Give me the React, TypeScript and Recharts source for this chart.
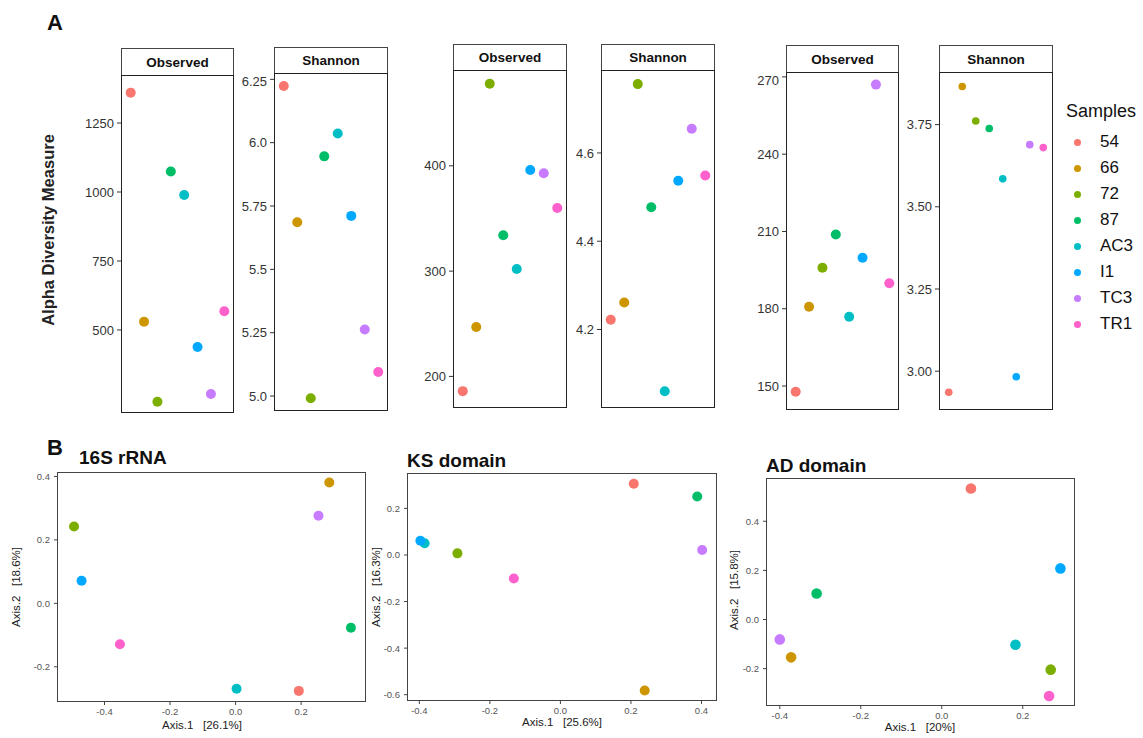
import { ScatterChart, Scatter, XAxis, YAxis } from "recharts";

const FONT = "'Liberation Sans', Arial, Helvetica, sans-serif";

const samples = ["54", "66", "72", "87", "AC3", "I1", "TC3", "TR1"];
const sampleColors = ["#F8766D", "#CD9600", "#7CAE00", "#00BE67", "#00BFC4", "#00A9FF", "#C77CFF", "#FF61CC"];

// A: alpha diversity per sample (16S / KS / AD)
const obs16S = [1360, 530, 240, 1074, 989, 438, 268, 568];
const shannon16S = [6.224, 5.686, 4.991, 5.946, 6.036, 5.711, 5.263, 5.095];
const obsKS = [186, 247, 478, 334, 302, 396, 393, 360];
const shannonKS = [4.222, 4.261, 4.756, 4.477, 4.06, 4.537, 4.655, 4.549];
const obsAD = [147.8, 180.8, 195.9, 208.8, 176.9, 199.8, 267, 189.9];
const shannonAD = [2.936, 3.866, 3.761, 3.738, 3.585, 2.983, 3.689, 3.68];

const obs16STicks = [500, 750, 1000, 1250];
const shannon16STicks = [5.0, 5.25, 5.5, 5.75, 6.0, 6.25];
const shannon16SLabels = ["5.0", "5.25", "5.5", "5.75", "6.0", "6.25"];
const obsKSTicks = [200, 300, 400];
const shannonKSTicks = [4.2, 4.4, 4.6];
const obsADTicks = [150, 180, 210, 240, 270];
const shannonADTicks = [3.0, 3.25, 3.5, 3.75];

// B: PCoA coordinates per sample
const pc16SX = [0.193, 0.286, -0.493, 0.352, 0.003, -0.47, 0.253, -0.353];
const pc16SY = [-0.276, 0.381, 0.242, -0.077, -0.269, 0.071, 0.276, -0.129];
const pcKSX = [0.208, 0.239, -0.292, 0.388, -0.385, -0.397, 0.402, -0.132];
const pcKSY = [0.306, -0.582, 0.007, 0.251, 0.05, 0.061, 0.021, -0.101];
const pcADX = [0.072, -0.372, 0.269, -0.309, 0.182, 0.293, -0.4, 0.265];
const pcADY = [0.533, -0.154, -0.204, 0.106, -0.103, 0.208, -0.081, -0.311];

const pcTicks4 = [-0.4, -0.2, 0.0, 0.2];
const pcTicks5 = [-0.4, -0.2, 0.0, 0.2, 0.4];
const ksYTicks = [-0.6, -0.4, -0.2, 0.0, 0.2];
const pcYTicks = [-0.2, 0.0, 0.2, 0.4];

const dot = (r: number) => (props: any) =>
  props.cx == null ? <g /> : <circle cx={props.cx} cy={props.cy} r={r} fill={props.payload.color} />;

const fmt1 = (v: number) => v.toFixed(1);
const fmt2 = (v: number) => v.toFixed(2);
const fmt0 = (v: number) => String(v);

function AlphaPanel({ p }: { p: any }) {
  const yw = 50;
  const w = p.right - p.left;
  const h = p.bottom - p.top;
  const data = samples.map((s, i) => ({ sample: s, value: p.values[i], color: sampleColors[i] }));
  return (
    <>
      <div
        style={{
          position: "absolute",
          left: p.left,
          top: p.stripTop,
          width: w,
          height: p.top - p.stripTop + 1,
          border: "1px solid #444",
          boxSizing: "border-box",
          display: "flex",
          alignItems: "center",
          justifyContent: "center",
          fontWeight: "bold",
          fontSize: 13.5,
          color: "#111",
        }}
      >
        {p.title}
      </div>
      <div style={{ position: "absolute", left: p.left - yw, top: p.top }}>
        <ScatterChart width={w + yw} height={h} margin={{ top: 0, right: 0, bottom: 0, left: 0 }}>
          <XAxis type="category" dataKey="sample" hide padding={{ left: 3, right: 3 }} />
          <YAxis
            type="number"
            dataKey="value"
            width={yw}
            domain={p.domain}
            ticks={p.ticks}
            tickFormatter={p.fmt}
            allowDataOverflow
            axisLine={false}
            tickSize={4}
            tickMargin={3}
            tickLine={{ stroke: "#333" }}
            tick={{ fontSize: 13, fill: "#333", fontFamily: FONT }}
          />
          <Scatter data={data} isAnimationActive={false} shape={dot(p.r)} />
        </ScatterChart>
      </div>
      <div
        style={{
          position: "absolute",
          left: p.left,
          top: p.top,
          width: w,
          height: h,
          border: "1.5px solid #222",
          boxSizing: "border-box",
          pointerEvents: "none",
        }}
      />
    </>
  );
}

function PcoaPanel({ p }: { p: any }) {
  const yw = 34;
  const xh = 18;
  const w = p.right - p.left;
  const h = p.bottom - p.top;
  const data = samples.map((s, i) => ({ sample: s, x: p.xs[i], y: p.ys[i], color: sampleColors[i] }));
  return (
    <>
      <div style={{ position: "absolute", left: p.left - yw, top: p.top }}>
        <ScatterChart width={w + yw} height={h + xh} margin={{ top: 0, right: 0, bottom: 0, left: 0 }}>
          <XAxis
            type="number"
            dataKey="x"
            height={xh}
            domain={p.xDomain}
            ticks={p.xTicks}
            tickFormatter={fmt1}
            allowDataOverflow
            axisLine={false}
            tickSize={3}
            tickMargin={3}
            tickLine={{ stroke: "#444" }}
            tick={{ fontSize: 9.5, fill: "#555", fontFamily: FONT }}
          />
          <YAxis
            type="number"
            dataKey="y"
            width={yw}
            domain={p.yDomain}
            ticks={p.yTicks}
            tickFormatter={fmt1}
            allowDataOverflow
            axisLine={false}
            tickSize={3}
            tickMargin={4}
            tickLine={{ stroke: "#444" }}
            tick={{ fontSize: 9.5, fill: "#555", fontFamily: FONT }}
          />
          <Scatter data={data} isAnimationActive={false} shape={dot(p.r)} />
        </ScatterChart>
      </div>
      <div
        style={{
          position: "absolute",
          left: p.left,
          top: p.top,
          width: w,
          height: h,
          border: "1.5px solid #444",
          boxSizing: "border-box",
          pointerEvents: "none",
        }}
      />
      <div style={{ position: "absolute", left: p.titleLeft, top: p.titleTop, fontSize: 19, fontWeight: "bold", lineHeight: 1, whiteSpace: "nowrap" }}>
        {p.title}
      </div>
      <Centered x={p.xLabelX} y={p.xLabelY} size={11.5}>{p.xLabel}</Centered>
      <Centered x={p.yLabelX} y={p.yLabelY} size={11.5} rotate>{p.yLabel}</Centered>
    </>
  );
}

function Centered({ x, y, size, rotate, bold, children }: any) {
  return (
    <div
      style={{
        position: "absolute",
        left: x,
        top: y,
        transform: `translate(-50%, -50%)${rotate ? " rotate(-90deg)" : ""}`,
        fontSize: size,
        fontWeight: bold ? "bold" : "normal",
        whiteSpace: "pre",
        lineHeight: 1,
        color: "#222",
      }}
    >
      {children}
    </div>
  );
}

const alphaPanels = [
  { title: "Observed", left: 121, right: 234, top: 75, bottom: 413, stripTop: 48, values: obs16S, domain: [199, 1424], ticks: obs16STicks, fmt: fmt0, r: 5 },
  { title: "Shannon", left: 274, right: 388, top: 73, bottom: 411, stripTop: 47, values: shannon16S, domain: [4.941, 6.275], ticks: shannon16STicks, fmt: (v: number) => shannon16SLabels[shannon16STicks.indexOf(v)], r: 5 },
  { title: "Observed", left: 453, right: 567, top: 70, bottom: 408, stripTop: 44, values: obsKS, domain: [170, 491], ticks: obsKSTicks, fmt: fmt0, r: 5 },
  { title: "Shannon", left: 601, right: 715, top: 70, bottom: 408, stripTop: 44, values: shannonKS, domain: [4.022, 4.788], ticks: shannonKSTicks, fmt: fmt1, r: 5 },
  { title: "Observed", left: 786, right: 899, top: 72, bottom: 410, stripTop: 45, values: obsAD, domain: [140.7, 271.9], ticks: obsADTicks, fmt: fmt0, r: 5 },
  { title: "Shannon", left: 939, right: 1053, top: 72, bottom: 410, stripTop: 45, values: shannonAD, domain: [2.882, 3.91], ticks: shannonADTicks, fmt: fmt2, r: 3.8 },
];

const pcoaPanels = [
  {
    title: "16S rRNA", left: 57, right: 366, top: 472, bottom: 702, titleLeft: 79, titleTop: 448,
    xs: pc16SX, ys: pc16SY, xDomain: [-0.545, 0.398], yDomain: [-0.311, 0.414], xTicks: pcTicks4, yTicks: pcYTicks,
    xLabel: "Axis.1   [26.1%]", yLabel: "Axis.2   [18.6%]", xLabelX: 202, xLabelY: 726, yLabelX: 17, yLabelY: 587, r: 5,
  },
  {
    title: "KS domain", left: 407, right: 717, top: 473, bottom: 701, titleLeft: 407, titleTop: 451,
    xs: pcKSX, ys: pcKSY, xDomain: [-0.435, 0.444], yDomain: [-0.627, 0.352], xTicks: pcTicks5, yTicks: ksYTicks,
    xLabel: "Axis.1   [25.6%]", yLabel: "Axis.2   [16.3%]", xLabelX: 562, xLabelY: 723, yLabelX: 377, yLabelY: 587, r: 5,
  },
  {
    title: "AD domain", left: 766, right: 1075, top: 478, bottom: 706, titleLeft: 766, titleTop: 456,
    xs: pcADX, ys: pcADY, xDomain: [-0.434, 0.329], yDomain: [-0.352, 0.576], xTicks: pcTicks4, yTicks: pcYTicks,
    xLabel: "Axis.1   [20%]", yLabel: "Axis.2   [15.8%]", xLabelX: 920, xLabelY: 728, yLabelX: 735, yLabelY: 590, r: 5.3,
  },
];

export default function App() {
  return (
    <div
      style={{
        position: "absolute",
        left: 0,
        top: 0,
        width: 1143,
        height: 738,
        background: "#fff",
        fontFamily: FONT,
        color: "#111",
        overflow: "hidden",
      }}
    >
      <div style={{ position: "absolute", left: 47, top: 12, fontSize: 22, fontWeight: "bold", lineHeight: 1 }}>A</div>
      <div style={{ position: "absolute", left: 47, top: 437, fontSize: 22, fontWeight: "bold", lineHeight: 1 }}>B</div>

      <Centered x={48} y={230} size={16.5} rotate bold>Alpha Diversity Measure</Centered>

      {alphaPanels.map((p, i) => (
        <AlphaPanel key={i} p={p} />
      ))}

      {/* legend */}
      <div style={{ position: "absolute", left: 1066, top: 102, fontSize: 18, lineHeight: 1 }}>Samples</div>
      {samples.map((s, i) => (
        <div key={s} style={{ position: "absolute", left: 1074, top: 142 + 26 * i - 10, height: 20, display: "flex", alignItems: "center" }}>
          <span style={{ width: 7, height: 7, borderRadius: "50%", background: sampleColors[i], display: "inline-block", marginRight: 19 }} />
          <span style={{ fontSize: 17 }}>{s}</span>
        </div>
      ))}

      {pcoaPanels.map((p, i) => (
        <PcoaPanel key={i} p={p} />
      ))}
    </div>
  );
}
